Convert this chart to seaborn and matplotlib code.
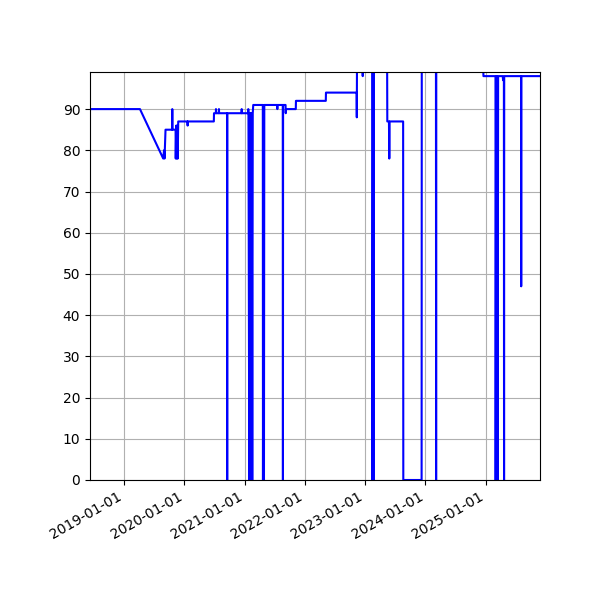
import pandas as pd
import seaborn as sns
import matplotlib.pyplot as plt
import matplotlib.dates as mdates

# Série (datas irregulares, degraus e quedas)
dates = [
    "2018-06-07", "2019-04-06", "2019-08-25", "2019-08-30", "2019-09-02", "2019-09-08",
    "2019-10-18", "2019-10-19", "2019-10-20", "2019-11-08",
    "2019-11-09", "2019-11-12", "2019-11-15", "2019-11-18", "2019-11-21", "2019-11-24",
    "2020-01-19", "2020-01-20", "2020-01-21",
    "2020-06-27", "2020-06-28",
    "2020-07-09", "2020-07-10", "2020-07-11",
    "2020-07-27", "2020-07-28", "2020-07-29",
    "2020-09-15", "2020-09-16", "2020-09-17",
    "2020-12-12", "2020-12-13", "2020-12-14",
    "2021-01-21", "2021-01-22", "2021-01-23",
    "2021-01-28", "2021-01-31", "2021-02-03", "2021-02-06", "2021-02-09", "2021-02-12",
    "2021-02-15", "2021-02-18", "2021-02-21",
    "2021-04-20", "2021-04-21", "2021-04-24", "2021-04-27", "2021-04-29",
    "2021-07-16", "2021-07-17", "2021-07-18",
    "2021-08-19", "2021-08-20", "2021-08-21",
    "2021-09-05", "2021-09-06", "2021-09-07",
    "2021-11-06", "2021-11-07",
    "2022-05-07", "2022-05-08",
    "2022-11-10", "2022-11-11", "2022-11-12",
    "2022-12-16", "2022-12-17", "2022-12-18",
    "2023-02-13", "2023-02-14", "2023-02-17", "2023-02-20", "2023-02-23",
    "2023-05-14", "2023-05-15",
    "2023-05-25", "2023-05-27", "2023-05-29",
    "2023-08-19", "2023-08-20",
    "2023-12-09", "2023-12-10",
    "2024-03-05", "2024-03-06", "2024-03-07",
    "2024-12-17", "2024-12-18",
    "2025-03-01", "2025-03-02", "2025-03-05", "2025-03-08", "2025-03-11", "2025-03-14",
    "2025-03-17",
    "2025-04-14", "2025-04-16", "2025-04-21", "2025-04-22", "2025-04-23",
    "2025-08-03", "2025-08-04", "2025-08-05",
    "2025-11-26",
]
values = [
    90, 90, 78, 80, 78, 85,
    85, 90, 85, 85,
    78, 86, 78, 86, 78, 87,
    87, 86, 87,
    87, 89,
    89, 90, 89,
    89, 90, 89,
    89, 0, 89,
    89, 90, 89,
    89, 90, 89,
    0, 89, 0, 89, 0, 89,
    0, 89, 91,
    91, 0, 91, 0, 91,
    91, 90, 91,
    91, 0, 91,
    91, 89, 90,
    90, 92,
    92, 94,
    94, 88, 100,
    100, 98, 100,
    100, 0, 100, 0, 100,
    100, 87,
    87, 78, 87,
    87, 0,
    0, 100,
    100, 0, 100,
    100, 98,
    98, 0, 98, 0, 98, 0,
    98,
    98, 97, 97, 0, 98,
    98, 47, 98,
    98,
]

df = pd.DataFrame({"date": pd.to_datetime(dates), "value": values})

fig, ax = plt.subplots(figsize=(6, 6))
sns.lineplot(data=df, x="date", y="value", color="blue",
             estimator=None, sort=False, ax=ax)

ax.set_xlim(df["date"].min(), df["date"].max())
ax.set_ylim(0, 99)
ax.set_yticks(range(0, 100, 10))
ax.xaxis.set_major_locator(mdates.YearLocator())
ax.xaxis.set_major_formatter(mdates.DateFormatter("%Y-%m-%d"))
ax.grid(True)
ax.set_xlabel("")
ax.set_ylabel("")

fig.autofmt_xdate()
plt.subplots_adjust(left=0.15)
fig.savefig("out.png", dpi=100)
